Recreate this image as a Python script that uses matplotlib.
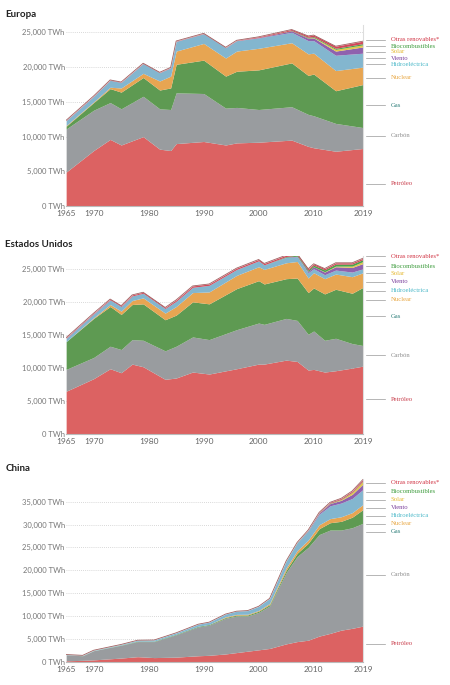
import numpy as np
import matplotlib
matplotlib.use("Agg")
import matplotlib.pyplot as plt

# Europa: cumulative tops (miles de TWh) for fossil/nuclear/hydro, thickness for small renewables
eu_years = [1965, 1970, 1973, 1975, 1979, 1982, 1984, 1985, 1990, 1994, 1996, 2000, 2006, 2009, 2010, 2014, 2019]
eu_oil = [4.9, 8.0, 9.6, 8.8, 10.0, 8.2, 8.0, 9.0, 9.3, 8.8, 9.1, 9.2, 9.5, 8.6, 8.4, 7.9, 8.3]
eu_coal = [11.1, 13.8, 14.9, 14.0, 15.8, 14.0, 13.9, 16.3, 16.2, 14.1, 14.2, 13.9, 14.3, 13.2, 13.0, 11.9, 11.3]
eu_gas = [11.5, 14.9, 16.9, 16.4, 18.5, 16.7, 17.0, 20.4, 21.0, 18.7, 19.4, 19.6, 20.6, 18.8, 19.0, 16.6, 17.5]
eu_nuc = [11.6, 15.0, 17.1, 17.0, 19.1, 18.0, 18.7, 22.3, 23.4, 21.3, 22.3, 22.7, 23.5, 21.9, 22.0, 19.5, 20.0]
eu_hyd = [12.3, 15.8, 18.1, 17.8, 20.5, 19.2, 19.9, 23.7, 24.8, 22.8, 23.8, 24.2, 25.0, 23.8, 23.8, 21.7, 22.0]
eu_wind = [0, 0, 0, 0, 0, 0, 0, 0, 0, 0, 0, 0.05, 0.2, 0.35, 0.4, 0.6, 0.9]
eu_solar = [0, 0, 0, 0, 0, 0, 0, 0, 0, 0, 0, 0, 0, 0.03, 0.06, 0.25, 0.3]
eu_bio = [0, 0, 0, 0, 0, 0, 0, 0, 0, 0, 0, 0, 0.05, 0.1, 0.12, 0.15, 0.18]
eu_other = [0.05, 0.05, 0.05, 0.05, 0.05, 0.05, 0.05, 0.05, 0.05, 0.05, 0.05, 0.1, 0.15, 0.2, 0.22, 0.3, 0.35]

us_years = [1965, 1970, 1973, 1975, 1977, 1979, 1983, 1985, 1988, 1991, 1996, 2000, 2001, 2005, 2007, 2009, 2010, 2012, 2014, 2017, 2019]
us_oil = [6.5, 8.4, 9.9, 9.3, 10.6, 10.2, 8.3, 8.5, 9.4, 9.1, 9.9, 10.6, 10.6, 11.2, 11.0, 9.7, 9.8, 9.4, 9.6, 10.0, 10.3]
us_coal = [9.8, 11.6, 13.3, 12.8, 14.3, 14.2, 12.6, 13.3, 14.7, 14.3, 15.8, 16.8, 16.6, 17.5, 17.2, 15.1, 15.6, 14.2, 14.5, 13.7, 13.4]
us_gas = [14.0, 17.5, 19.3, 18.1, 19.6, 19.7, 17.3, 18.0, 20.0, 19.7, 22.0, 23.2, 22.7, 23.5, 23.6, 21.4, 22.1, 21.2, 21.9, 21.3, 22.2]
us_nuc = [14.0, 17.6, 19.6, 18.6, 20.2, 20.6, 18.3, 19.3, 21.4, 21.5, 24.0, 25.3, 24.9, 25.9, 26.1, 23.6, 24.4, 23.5, 24.2, 23.8, 24.4]
us_hyd = [14.5, 18.2, 20.3, 19.3, 20.9, 21.3, 19.0, 20.1, 22.2, 22.5, 24.9, 26.2, 25.6, 26.7, 26.8, 24.4, 25.0, 24.1, 24.8, 24.5, 25.0]
us_wind = [0, 0, 0, 0, 0, 0, 0, 0, 0, 0, 0, 0, 0, 0.05, 0.1, 0.2, 0.3, 0.4, 0.5, 0.7, 0.8]
us_solar = [0, 0, 0, 0, 0, 0, 0, 0, 0, 0, 0, 0, 0, 0, 0, 0, 0, 0.05, 0.1, 0.2, 0.3]
us_bio = [0, 0, 0, 0, 0, 0, 0, 0, 0, 0, 0, 0, 0, 0.1, 0.15, 0.2, 0.25, 0.28, 0.3, 0.3, 0.3]
us_other = [0.1, 0.1, 0.12, 0.12, 0.15, 0.15, 0.15, 0.2, 0.2, 0.2, 0.2, 0.2, 0.2, 0.2, 0.2, 0.2, 0.2, 0.2, 0.2, 0.2, 0.2]

cn_years = [1965, 1968, 1970, 1975, 1978, 1981, 1985, 1989, 1991, 1994, 1996, 1998, 2000, 2002, 2005, 2007, 2009, 2011, 2013, 2015, 2017, 2019]
cn_oil = [0.2, 0.3, 0.4, 0.8, 1.1, 0.9, 1.0, 1.3, 1.4, 1.7, 2.0, 2.3, 2.6, 2.9, 3.9, 4.4, 4.7, 5.6, 6.2, 6.9, 7.3, 7.8]
cn_coal = [1.5, 1.3, 2.4, 3.6, 4.4, 4.4, 5.9, 7.6, 8.0, 9.5, 10.0, 10.0, 10.8, 12.2, 19.5, 23.0, 25.0, 27.8, 28.8, 28.8, 29.3, 30.3]
cn_gas_t = [0.02, 0.03, 0.03, 0.06, 0.1, 0.1, 0.12, 0.15, 0.15, 0.18, 0.2, 0.22, 0.25, 0.3, 0.5, 0.7, 0.9, 1.3, 1.6, 1.9, 2.3, 3.0]
cn_nuc_t = [0, 0, 0, 0, 0, 0, 0, 0, 0, 0.15, 0.15, 0.16, 0.17, 0.25, 0.5, 0.6, 0.7, 0.85, 0.9, 1.0, 1.0, 1.1]
cn_hyd_t = [0.05, 0.06, 0.08, 0.12, 0.2, 0.25, 0.3, 0.45, 0.5, 0.6, 0.7, 0.8, 0.9, 1.1, 1.5, 1.7, 2.0, 2.3, 2.8, 3.0, 3.1, 3.3]
cn_wind = [0, 0, 0, 0, 0, 0, 0, 0, 0, 0, 0, 0, 0, 0, 0, 0.03, 0.1, 0.25, 0.5, 0.6, 0.9, 1.2]
cn_solar = [0, 0, 0, 0, 0, 0, 0, 0, 0, 0, 0, 0, 0, 0, 0, 0, 0, 0, 0.05, 0.15, 0.4, 0.6]
cn_bio = [0, 0, 0, 0, 0, 0, 0, 0, 0, 0, 0, 0, 0, 0, 0.05, 0.05, 0.05, 0.06, 0.07, 0.08, 0.09, 0.1]
cn_other = [0, 0, 0, 0, 0, 0, 0, 0, 0, 0, 0, 0, 0, 0, 0, 0.02, 0.05, 0.1, 0.15, 0.2, 0.25, 0.3]

labels = ["Petróleo", "Carbón", "Gas", "Nuclear", "Hidroeléctrica", "Viento", "Solar", "Biocombustibles", "Otras renovables*"]
fill_colors = ["#dc6262", "#999c9f", "#5e9a52", "#e7a552", "#83b6cf", "#8f62ae", "#e3c84a", "#4aa24a", "#d2485a"]
text_colors = ["#c83c4a", "#8f8f8f", "#2d7f7a", "#e8a640", "#4ab8c8", "#7a3f9c", "#e5b830", "#3a9a3a", "#d03040"]


def stack_tops(cumulative, extras):
    # cumulative: list of already-stacked tops; extras: layer thicknesses added on top
    tops = [np.array(a, float) for a in cumulative]
    for arr in extras:
        tops.append(tops[-1] + np.array(arr, float))
    return tops


eu = stack_tops([eu_oil, eu_coal, eu_gas, eu_nuc, eu_hyd], [eu_wind, eu_solar, eu_bio, eu_other])
us = stack_tops([us_oil, us_coal, us_gas, us_nuc, us_hyd], [us_wind, us_solar, us_bio, us_other])
cn = stack_tops([cn_oil, cn_coal], [cn_gas_t, cn_nuc_t, cn_hyd_t, cn_wind, cn_solar, cn_bio, cn_other])

# label y positions (thousand TWh)
eu_lab = [3.2, 10.1, 14.5, 18.5, 20.4, 21.3, 22.2, 23.0, 23.9]
us_lab = [5.3, 11.9, 17.8, 20.3, 21.7, 23.0, 24.3, 25.4, 26.9]
cn_lab = [3.9, 19.0, 28.4, 30.2, 31.9, 33.7, 35.4, 37.2, 39.1]

panels = [
    ("Europa", eu_years, eu, eu_lab, [0, 5, 10, 15, 20, 25], 26.0, [0.699, 0.264]),
    ("Estados Unidos", us_years, us, us_lab, [0, 5, 10, 15, 20, 25], 27.0, [0.366, 0.261]),
    ("China", cn_years, cn, cn_lab, [0, 5, 10, 15, 20, 25, 30, 35], 40.0, [0.034, 0.267]),
]

plt.rcParams["font.family"] = ["Lato", "DejaVu Sans"]
fig = plt.figure(figsize=(4.5, 6.85), dpi=100)

for title, years, tops, labpos, yt, ytop, (bot, h) in panels:
    ax = fig.add_axes([0.147, bot, 0.66, h])
    yrs = np.array(years)
    prev = np.zeros(len(yrs))
    for top, c in zip(tops, fill_colors):
        ax.fill_between(yrs, prev, top, color=c, lw=0)
        prev = top
    ax.plot(yrs, tops[-1], color="#a06060", lw=0.6)
    ax.set_xlim(1965, 2019)
    ax.set_ylim(0, ytop)
    ax.set_yticks(yt)
    ax.set_yticklabels([f"{v},000 TWh" if v else "0 TWh" for v in yt], fontsize=5.5, color="#777777")
    ax.set_xticks([1965, 1970, 1980, 1990, 2000, 2010, 2019])
    ax.tick_params(axis="x", labelsize=6, colors="#666666", length=0, pad=3)
    ax.tick_params(axis="y", length=0, pad=1)
    for v in yt[1:]:
        ax.axhline(v, color="#cccccc", lw=0.6, ls=(0, (1, 1.5)), zorder=0)
    ax.set_axisbelow(True)
    for s in ["top", "left"]:
        ax.spines[s].set_visible(False)
    ax.spines["right"].set_color("#dddddd")
    ax.spines["bottom"].set_color("#bbbbbb")
    ax.patch.set_alpha(0)
    for lab, y, tc in zip(labels, labpos, text_colors):
        ax.plot([2019.6, 2023], [y, y], color="#999999", lw=0.5, clip_on=False)
        ax.text(2024, y, lab, fontsize=4.8, color=tc, va="center", ha="left",
                family=["Liberation Serif", "DejaVu Serif"])
    fig.text(0.012, bot + h + 0.012, title, fontsize=7, color="#222222", fontweight="bold")

fig.savefig("out.png", dpi=100)
